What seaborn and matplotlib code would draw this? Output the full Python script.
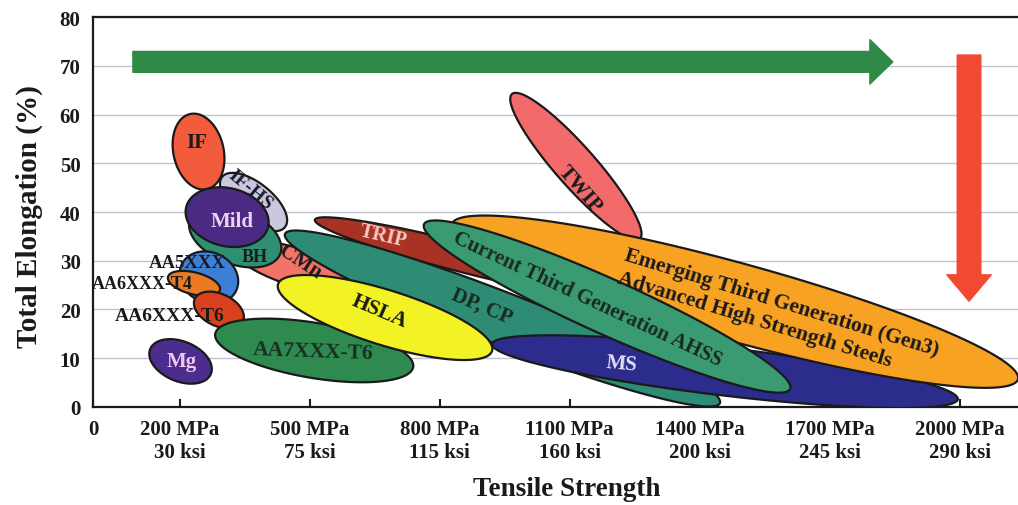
import numpy as np
import seaborn as sns
import matplotlib.pyplot as plt
from matplotlib.patches import FancyArrowPatch

sns.set_theme(style="white")
plt.rcParams["font.family"] = ["Liberation Serif", "DejaVu Serif"]
plt.rcParams["font.weight"] = "bold"

# material families, listed bottom-to-top in drawing order
# each band: major axis from (ts_start, el_start) to (ts_end, el_end), spread = band thickness in % elongation
grades = ["IF", "IF-HS", "CMn", "BH", "Mild", "AA5XXX", "AA6XXX-T4", "AA6XXX-T6", "Mg",
          "AA7XXX-T6", "TRIP", "DP, CP", "HSLA", "MS", "TWIP", "Gen3", "Current"]
ts_start = [224, 298, 321, 224, 215, 205, 173, 235, 132, 282, 512, 443, 427, 921, 967, 828, 764]
el_start = [60.1, 47.2, 32.8, 38.6, 41.0, 29.3, 26.7, 22.2, 11.9, 15.0, 38.4, 35.5, 25.2, 12.9, 64.2, 37.5, 37.5]
ts_end = [263, 443, 628, 432, 404, 330, 293, 346, 272, 739, 1215, 1447, 921, 1996, 1262, 2135, 1609]
el_end = [44.7, 36.9, 24.2, 31.4, 36.9, 23.8, 24.0, 17.6, 6.8, 8.2, 22.5, 0.8, 11.5, 1.6, 34.5, 5.7, 3.7]
spread = [10.3, 7.8, 7.8, 11.3, 11.9, 10.3, 4.5, 6.6, 8.2, 11.3, 6.0, 10.7, 11.3, 9.8, 8.2, 16.0, 11.3]
colors = ["#f25c3c", "#cac8de", "#f27468", "#2f8f72", "#4a2a82", "#3d7fd6", "#ec7a22", "#d8401e",
          "#4c2c8c", "#2e8a4e", "#a83224", "#2e8c74", "#f2f224", "#2c2c8c", "#f26a6a", "#f8a224", "#3a9a72"]

# labels
label_text = ["IF", "IF-HS", "Mild", "BH", "CMn", "AA5XXX", "AA6XXX-T4", "AA6XXX-T6", "Mg",
              "AA7XXX-T6", "HSLA", "TRIP", "DP, CP", "Current Third Generation AHSS", "TWIP", "MS",
              "Emerging Third Generation (Gen3)\nAdvanced High Strength Steels"]
label_x = [240, 362, 321, 372, 478, 217, 113, 176, 205, 508, 662, 669, 898, 1142, 1124, 1221, 1581]
label_y = [54.4, 44.7, 38.2, 30.8, 29.9, 29.7, 25.4, 18.7, 9.4, 11.5, 19.7, 35.1, 20.7, 22.2, 44.7, 9.0, 19.1]
label_rot = [0, -40, 0, 0, -33, 0, 0, 0, 0, -2, -23, -13, -23, -25, -49, -5, -17]
label_color = ["#1a1a1a", "#1a1a2a", "#f0d0f0", "#1a1a1a", "#1a1a1a", "#1a1a1a", "#1a1a1a", "#1a1a1a",
               "#f0c8f0", "#1a3020", "#1a1a1a", "#f5c8c0", "#1a2a20", "#1a2a20", "#1a1a1a", "#e0e0f8", "#1a1a1a"]
label_size = [15, 14, 15, 13, 15, 13.5, 13, 14, 15, 15.5, 15.5, 14.5, 15, 15, 15, 15, 15.5]

x_ticks = [0, 200, 500, 800, 1100, 1400, 1700, 2000]
x_ticklabels = ["0", "200 MPa\n30 ksi", "500 MPa\n75 ksi", "800 MPa\n115 ksi", "1100 MPa\n160 ksi",
                "1400 MPa\n200 ksi", "1700 MPa\n245 ksi", "2000 MPa\n290 ksi"]
y_ticks = [0, 10, 20, 30, 40, 50, 60, 70, 80]

fig = plt.figure(figsize=(10.18, 5.06), dpi=100)
ax = fig.add_axes([0.0914, 0.1937, 0.9086, 0.7707])
ax.set_xlim(0, 2135)
ax.set_ylim(0, 80)

yscale = ax.transData.transform((0, 1))[1] - ax.transData.transform((0, 0))[1]


def band(x1, y1, x2, y2, thick):
    # ellipse built in screen space so the band keeps its shape, then mapped back to data
    p1, p2 = ax.transData.transform([(x1, y1), (x2, y2)])
    c = (p1 + p2) / 2
    d = p2 - p1
    a = np.hypot(d[0], d[1]) / 2
    b = thick * yscale / 2
    ang = np.arctan2(d[1], d[0])
    t = np.linspace(0, 2 * np.pi, 240)
    ex, ey = a * np.cos(t), b * np.sin(t)
    px = c[0] + ex * np.cos(ang) - ey * np.sin(ang)
    py = c[1] + ex * np.sin(ang) + ey * np.cos(ang)
    return ax.transData.inverted().transform(np.column_stack([px, py]))


for i, g in enumerate(grades):
    xy = band(ts_start[i], el_start[i], ts_end[i], el_end[i], spread[i])
    ax.fill(xy[:, 0], xy[:, 1], facecolor=colors[i], edgecolor="#1a1a1a", lw=1.6, zorder=3 + i)

for i, txt in enumerate(label_text):
    ax.text(label_x[i], label_y[i], txt, rotation=label_rot[i], color=label_color[i],
            fontsize=label_size[i], fontweight="bold", ha="center", va="center",
            multialignment="left", linespacing=1.25, rotation_mode="anchor", zorder=40, clip_on=False)

# trend arrows
ax.add_patch(FancyArrowPatch((92, 70.8), (1846, 70.8), shrinkA=0, shrinkB=0,
                             arrowstyle="simple,head_length=16.5,head_width=32,tail_width=15",
                             color="#2e8a46", zorder=30))
ax.add_patch(FancyArrowPatch((2022, 72.2), (2022, 21.7), shrinkA=0, shrinkB=0,
                             arrowstyle="simple,head_length=19,head_width=32,tail_width=17",
                             color="#f24a32", zorder=30))

ax.set_yticks(y_ticks)
ax.set_xticks(x_ticks)
ax.set_xticklabels(x_ticklabels, linespacing=1.2)
ax.yaxis.grid(True, color="#c2c2d2", lw=1)
ax.xaxis.grid(False)
ax.set_axisbelow(True)
ax.tick_params(axis="y", length=0, pad=9, labelsize=15, colors="#1a1a1a")
ax.tick_params(axis="x", direction="in", length=6, width=1.5, pad=9, labelsize=15, colors="#1a1a1a")
ax.xaxis.set_ticks_position("bottom")

for side in ["left", "bottom", "top"]:
    ax.spines[side].set_color("#1a1a1a")
    ax.spines[side].set_linewidth(1.6)
ax.spines["right"].set_visible(False)

ax.set_ylabel("Total Elongation (%)", fontsize=21, fontweight="bold", color="#1a1a1a")
ax.set_xlabel("Tensile Strength", fontsize=19.5, fontweight="bold", color="#1a1a1a")
ax.yaxis.set_label_coords(-0.054, 0.49)
ax.xaxis.set_label_coords(0.512, -0.178)

fig.savefig("out.png", dpi=100, facecolor="white")
